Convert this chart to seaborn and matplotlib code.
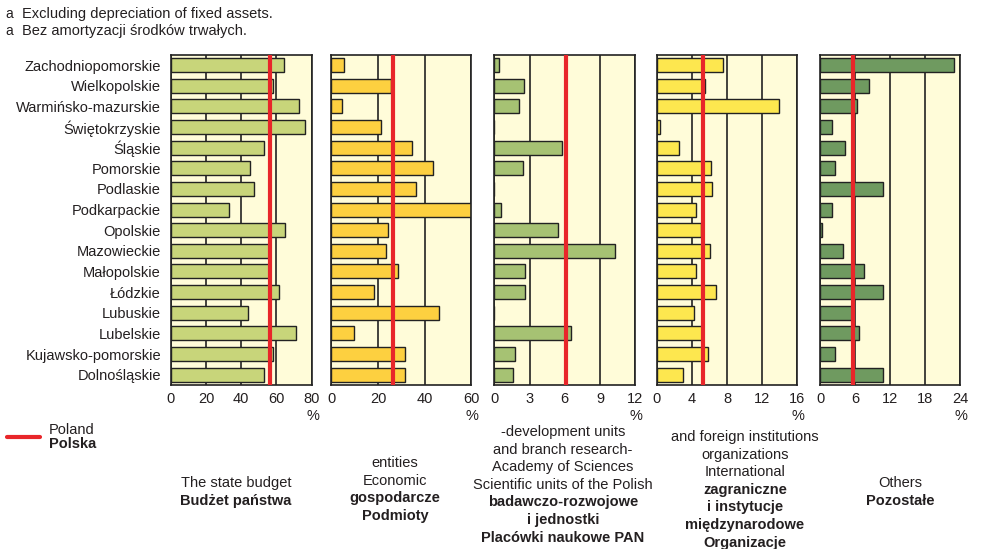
import numpy as np
import pandas as pd
import matplotlib
matplotlib.use('Agg')
import matplotlib.pyplot as plt
import seaborn as sns

# dane (kolejnosc od gory)
wojewodztwa = ['Zachodniopomorskie', 'Wielkopolskie', 'Warmińsko-mazurskie',
               'Świętokrzyskie', 'Śląskie', 'Pomorskie', 'Podlaskie',
               'Podkarpackie', 'Opolskie', 'Mazowieckie', 'Małopolskie',
               'Łódzkie', 'Lubuskie', 'Lubelskie', 'Kujawsko-pomorskie',
               'Dolnośląskie']

budzet = [64.1, 58.2, 73.0, 76.4, 53.1, 45.2, 47.1, 33.3, 65.0, 55.8, 55.8, 61.6, 44.0, 71.3, 58.2, 53.1]
podmioty = [5.6, 25.4, 4.7, 21.5, 34.4, 43.4, 36.5, 59.9, 24.1, 23.6, 28.4, 18.1, 46.0, 9.9, 31.7, 31.4]
placowki_pan = [0.4, 2.5, 2.1, 0.0, 5.8, 2.4, 0.0, 0.6, 5.4, 10.3, 2.6, 2.6, 0.0, 6.5, 1.8, 1.6]
organizacje = [7.5, 5.5, 13.9, 0.4, 2.5, 6.2, 6.3, 4.5, 5.0, 6.1, 4.5, 6.7, 4.2, 5.2, 5.8, 3.0]
pozostale = [23.0, 8.4, 6.4, 2.0, 4.2, 2.6, 10.7, 2.1, 0.3, 4.0, 7.6, 10.8, 5.5, 6.7, 2.5, 10.7]
polska = [56.3, 26.6, 6.1, 5.3, 5.7]

ticks = [[0, 20, 40, 60, 80], [0, 20, 40, 60], [0, 3, 6, 9, 12],
         [0, 4, 8, 12, 16], [0, 6, 12, 18, 24]]

naglowki = [
    [('The state budget', False), ('Budżet państwa', True)],
    [('entities', False), ('Economic', False), ('gospodarcze', True), ('Podmioty', True)],
    [('-development units', False), ('and branch research-', False),
     ('Academy of Sciences', False), ('Scientific units of the Polish', False),
     ('badawczo-rozwojowe', True), ('i jednostki', True), ('Placówki naukowe PAN', True)],
    [('and foreign institutions', False), ('organizations', False), ('International', False),
     ('zagraniczne', True), ('i instytucje', True), ('międzynarodowe', True), ('Organizacje', True)],
    [('Others', False), ('Pozostałe', True)],
]
naglowki_y0 = [483, 463, 432, 437, 483]
naglowki_x = [236, 395, 563, 745, 900]

serie = [budzet, podmioty, placowki_pan, organizacje, pozostale]
kolory = ['#c8d57a', '#fdd040', '#a6c273', '#fde74f', '#6f9a60']

sns.set_style('white')
plt.rcParams['font.family'] = ['Liberation Sans', 'DejaVu Sans']
plt.rcParams['font.size'] = 10.5
plt.rcParams['text.color'] = '#231f20'
plt.rcParams['xtick.color'] = '#231f20'
plt.rcParams['ytick.color'] = '#231f20'

W, H = 996, 549
fx = lambda px: px / W
fy = lambda py: 1 - py / H

fig = plt.figure(figsize=(W / 100, H / 100), dpi=100)

lefts = [170.7, 331.3, 494.3, 656.7, 820.0]
widths = [141.0, 140.0, 141.0, 140.6, 140.3]
top, bottom = 54.7, 385.0

for i in range(5):
    ax = fig.add_axes([fx(lefts[i]), fy(bottom), fx(widths[i]), (bottom - top) / H])
    ax.set_facecolor('#fffcd9')
    df = pd.DataFrame({'woj': wojewodztwa, 'val': serie[i]})
    sns.barplot(data=df, x='val', y='woj', ax=ax, color=kolory[i],
                edgecolor='#222222', linewidth=1.0, width=0.68,
                saturation=1, orient='h')
    ax.set_xlim(ticks[i][0], ticks[i][-1])
    ax.set_xticks(ticks[i])
    ax.set_axisbelow(True)
    ax.xaxis.grid(True, color='#222222', linewidth=1.2)
    ax.axvline(polska[i], color='#e8262a', linewidth=3.0, zorder=5)
    for s in ax.spines.values():
        s.set_color('#222222')
        s.set_linewidth(1.2)
    ax.tick_params(axis='both', length=0, pad=5, labelsize=10.5, labelcolor='#231f20')
    ax.set_xlabel('')
    ax.set_ylabel('')
    if i > 0:
        ax.set_yticklabels([])
    else:
        ax.tick_params(axis='y', pad=7)
    fig.text(fx(lefts[i] + widths[i] + 1), fy(416), '%', ha='center', va='center', fontsize=10.5)

    for k, (txt, gruby) in enumerate(naglowki[i]):
        fig.text(fx(naglowki_x[i]), fy(naglowki_y0[i] + k * 17.6), txt,
                 ha='center', va='center', fontsize=10.5,
                 fontweight='bold' if gruby else 'normal')

# legenda
fig.add_artist(plt.Line2D([fx(7), fx(40)], [fy(437), fy(437)], color='#e8262a', linewidth=3.0))
fig.text(fx(49), fy(430), 'Poland', ha='left', va='center', fontsize=10.5)
fig.text(fx(49), fy(444), 'Polska', ha='left', va='center', fontsize=10.5, fontweight='bold')

# przypisy
fig.text(fx(5), fy(14), 'a', ha='left', va='center', fontsize=10)
fig.text(fx(22), fy(14), 'Excluding depreciation of fixed assets.', ha='left', va='center', fontsize=10.5)
fig.text(fx(5), fy(31), 'a', ha='left', va='center', fontsize=10)
fig.text(fx(22), fy(31), 'Bez amortyzacji środków trwałych.', ha='left', va='center', fontsize=10.5)

fig.savefig('out.png', dpi=100)
